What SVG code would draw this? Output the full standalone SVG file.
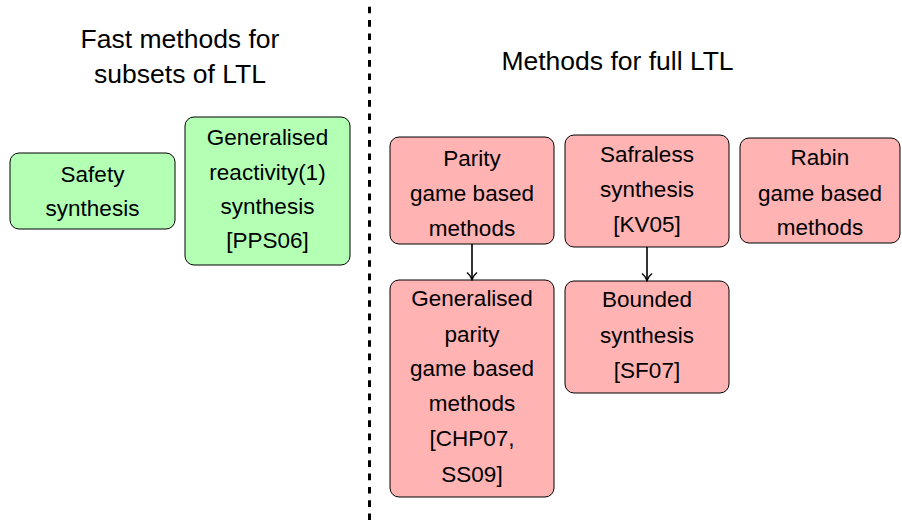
<svg xmlns="http://www.w3.org/2000/svg" width="902" height="521" viewBox="0 0 902 521">
  <style>
    .box { stroke: #000; stroke-width: 1; }
    .green { fill: #b3ffb3; }
    .red { fill: #ffb3b3; }
    text { font-family: "Liberation Sans", Arial, sans-serif; fill: #000; text-anchor: middle; }
    .lbl { font-size: 22.5px; }
    .title { font-size: 26.5px; }
    .edge { stroke: #000; stroke-width: 1.6; fill: none; marker-end: url(#arrow); }
  </style>
  <defs>
    <marker id="arrow" viewBox="0 0 12 12" refX="10.5" refY="6" markerWidth="12" markerHeight="12" markerUnits="userSpaceOnUse" orient="auto">
      <path d="M3.5,1 Q6.5,4.8 10.5,6 Q6.5,7.2 3.5,11" fill="none" stroke="#000" stroke-width="1.5"/>
    </marker>
  </defs>
  <rect width="902" height="521" fill="#fff"/>

  <!-- column headings -->
  <g id="heading-left">
    <text class="title" x="180" y="48">Fast methods for</text>
    <text class="title" x="180" y="83">subsets of LTL</text>
  </g>
  <g id="heading-right">
    <text class="title" x="617.5" y="70">Methods for full LTL</text>
  </g>

  <!-- separator -->
  <line x1="369.5" y1="6.7" x2="369.5" y2="520" stroke="#000" stroke-width="3" stroke-dasharray="6.67 6.67"/>

  <!-- nodes -->
  <g id="safety">
    <rect class="box green" x="10" y="153" width="165" height="76" rx="9"/>
    <text class="lbl" x="92.5" y="182">Safety</text>
    <text class="lbl" x="92.5" y="216">synthesis</text>
  </g>
  <g id="gr1">
    <rect class="box green" x="185" y="117" width="165" height="148" rx="9"/>
    <text class="lbl" x="267.5" y="145">Generalised</text>
    <text class="lbl" x="267.5" y="180">reactivity(1)</text>
    <text class="lbl" x="267.5" y="214">synthesis</text>
    <text class="lbl" x="267.5" y="248">[PPS06]</text>
  </g>
  <g id="parity">
    <rect class="box red" x="390" y="137" width="164" height="107" rx="9"/>
    <text class="lbl" x="472" y="166">Parity</text>
    <text class="lbl" x="472" y="201">game based</text>
    <text class="lbl" x="472" y="236">methods</text>
  </g>
  <g id="safraless">
    <rect class="box red" x="565" y="135" width="164" height="112" rx="9"/>
    <text class="lbl" x="647" y="162">Safraless</text>
    <text class="lbl" x="647" y="197">synthesis</text>
    <text class="lbl" x="647" y="232">[KV05]</text>
  </g>
  <g id="rabin">
    <rect class="box red" x="740" y="138" width="160" height="105" rx="9"/>
    <text class="lbl" x="820" y="165">Rabin</text>
    <text class="lbl" x="820" y="201">game based</text>
    <text class="lbl" x="820" y="235">methods</text>
  </g>
  <g id="gen-parity">
    <rect class="box red" x="390" y="280" width="164" height="217" rx="9"/>
    <text class="lbl" x="472" y="306">Generalised</text>
    <text class="lbl" x="472" y="342">parity</text>
    <text class="lbl" x="472" y="376">game based</text>
    <text class="lbl" x="472" y="411">methods</text>
    <text class="lbl" x="472" y="446">[CHP07,</text>
    <text class="lbl" x="472" y="482">SS09]</text>
  </g>
  <g id="bounded">
    <rect class="box red" x="565" y="281" width="164" height="112" rx="9"/>
    <text class="lbl" x="647" y="307">Bounded</text>
    <text class="lbl" x="647" y="343">synthesis</text>
    <text class="lbl" x="647" y="378">[SF07]</text>
  </g>

  <!-- connectors -->
  <g id="edges">
    <line class="edge" x1="472" y1="244" x2="472" y2="279.5"/>
    <line class="edge" x1="647" y1="247" x2="647" y2="280.5"/>
  </g>
</svg>
